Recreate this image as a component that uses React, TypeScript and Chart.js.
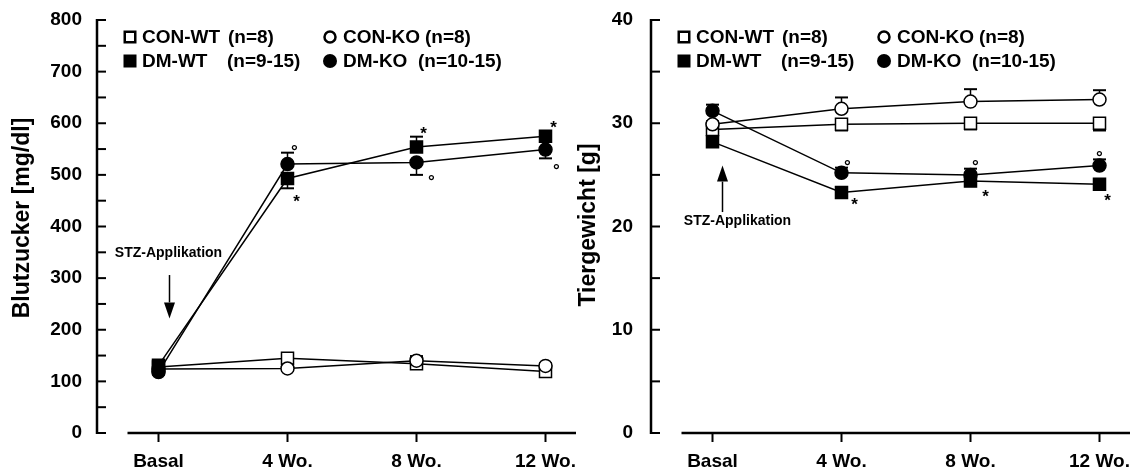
import React, { useEffect, useRef } from 'react';
import { Chart, registerables } from 'chart.js';

Chart.register(...registerables);

// ---------- data ----------
const CATEGORIES = ['Basal', '4 Wo.', '8 Wo.', '12 Wo.'];

const LEGEND_NAMES = ['CON-WT', 'CON-KO', 'DM-WT', 'DM-KO'];
const LEGEND_COUNTS = ['(n=8)', '(n=8)', '(n=9-15)', '(n=10-15)'];

// Blutzucker [mg/dl]
const BZ_CON_WT = [128, 145, 134, 119];
const BZ_CON_KO = [124, 125, 140, 130];
const BZ_DM_WT = [131, 493, 554, 575];
const BZ_DM_KO = [118, 521, 524, 549];
const BZ_CON_WT_ERR = [4, 8, -7, -6];
const BZ_CON_KO_ERR = [-4, -5, 9, 5];
const BZ_DM_WT_ERR = [5, -19, 20, 6];
const BZ_DM_KO_ERR = [-5, 22, -24, -17];
const BZ_DM_WT_SIG = ['', '*', '*', '*'];
const BZ_DM_KO_SIG = ['', '°', '°', '°'];

// Tiergewicht [g]
const TG_CON_WT = [29.4, 29.9, 30.0, 30.0];
const TG_CON_KO = [29.9, 31.4, 32.1, 32.3];
const TG_DM_WT = [28.2, 23.3, 24.4, 24.1];
const TG_DM_KO = [31.2, 25.2, 25.0, 25.9];
const TG_CON_WT_ERR = [-0.3, -0.6, -0.6, -0.7];
const TG_CON_KO_ERR = [0.3, 1.1, 1.2, 0.9];
const TG_DM_WT_ERR = [-0.4, -0.3, -0.4, -0.3];
const TG_DM_KO_ERR = [0.6, 0.5, 0.6, 0.6];
const TG_DM_WT_SIG = ['', '*', '*', '*'];
const TG_DM_KO_SIG = ['', '°', '°', '°'];

const BZ_Y_MAX = 800;
const BZ_Y_STEP = 50;
const BZ_Y_LABEL_STEP = 100;
const TG_Y_MAX = 40;
const TG_Y_STEP = 5;
const TG_Y_LABEL_STEP = 10;

const STZ_TEXT = 'STZ-Applikation';
// STZ annotation anchors in data values (y)
const BZ_STZ = { textY: 349, arrowFrom: 306, arrowTo: 222 };
const TG_STZ = { textY: 20.5, arrowFrom: 21.4, arrowTo: 25.9 };

// ---------- styling / layout ----------
const FONT = 'Liberation Sans, Arial, Helvetica, sans-serif';
const CANVAS_W = 579;
const CANVAS_H = 471;
const AXIS_LEFT = 97;
const CAT_SPACING = 129;
const BASAL_PX = 158.5;
const AREA_RIGHT = 576;
const X_MIN = -(BASAL_PX - AXIS_LEFT) / CAT_SPACING;
const X_MAX = 3 + (AREA_RIGHT - (BASAL_PX + 3 * CAT_SPACING)) / CAT_SPACING;
const X_AXIS_START = -(BASAL_PX - 127.5) / CAT_SPACING;

type Series = { data: number[]; err: number[]; style: 'rect' | 'circle'; filled: boolean };

type PanelCfg = {
  left: number;
  yMax: number;
  yStep: number;
  yLabelStep: number;
  tickPadding: number;
  title: string;
  titleX: number;
  titleCY: number;
  series: Series[];
  sigWT: string[];
  sigKO: string[];
  sigWTOff: number[][];
  sigKOOff: number[][];
  stz: { textY: number; arrowFrom: number; arrowTo: number };
  stzTextDX: number;
  stzArrowDX: number;
};

const PANELS: PanelCfg[] = [
  {
    left: 0,
    yMax: BZ_Y_MAX,
    yStep: BZ_Y_STEP,
    yLabelStep: BZ_Y_LABEL_STEP,
    tickPadding: 15,
    title: 'Blutzucker [mg/dl]',
    titleX: 29,
    titleCY: 218,
    series: [
      { data: BZ_CON_WT, err: BZ_CON_WT_ERR, style: 'rect', filled: false },
      { data: BZ_CON_KO, err: BZ_CON_KO_ERR, style: 'circle', filled: false },
      { data: BZ_DM_WT, err: BZ_DM_WT_ERR, style: 'rect', filled: true },
      { data: BZ_DM_KO, err: BZ_DM_KO_ERR, style: 'circle', filled: true },
    ],
    sigWT: BZ_DM_WT_SIG,
    sigKO: BZ_DM_KO_SIG,
    sigWTOff: [[0, 0], [9, 19], [7, -18], [8, -13]],
    sigKOOff: [[0, 0], [7, -17], [15, 15], [11, 17]],
    stz: BZ_STZ,
    stzTextDX: 10,
    stzArrowDX: 11,
  },
  {
    left: 554,
    yMax: TG_Y_MAX,
    yStep: TG_Y_STEP,
    yLabelStep: TG_Y_LABEL_STEP,
    tickPadding: 18,
    title: 'Tiergewicht [g]',
    titleX: 41,
    titleCY: 225,
    series: [
      { data: TG_CON_WT, err: TG_CON_WT_ERR, style: 'rect', filled: false },
      { data: TG_CON_KO, err: TG_CON_KO_ERR, style: 'circle', filled: false },
      { data: TG_DM_WT, err: TG_DM_WT_ERR, style: 'rect', filled: true },
      { data: TG_DM_KO, err: TG_DM_KO_ERR, style: 'circle', filled: true },
    ],
    sigWT: TG_DM_WT_SIG,
    sigKO: TG_DM_KO_SIG,
    sigWTOff: [[0, 0], [13, 8], [15, 11], [8, 12]],
    sigKOOff: [[0, 0], [6, -10], [5, -12], [0, -12]],
    stz: TG_STZ,
    stzTextDX: 25,
    stzArrowDX: 10,
  },
];

function drawSymbol(ctx: CanvasRenderingContext2D, s: string, cx: number, cy: number, size: number) {
  ctx.font = `bold ${size}px ${FONT}`;
  ctx.textAlign = 'center';
  ctx.textBaseline = 'alphabetic';
  ctx.fillText(s, cx, cy + 0.56 * size);
}

function makePlugin(cfg: PanelCfg) {
  return {
    id: 'panelDecor',
    beforeDatasetsDraw(chart: any) {
      const ctx: CanvasRenderingContext2D = chart.ctx;
      const yS = chart.scales.y;
      ctx.save();
      ctx.strokeStyle = '#000';
      cfg.series.forEach((s, i) => {
        const meta = chart.getDatasetMeta(i);
        meta.data.forEach((pt: any, j: number) => {
          const e = s.err[j];
          if (!e) return;
          const yEnd = yS.getPixelForValue(s.data[j] + e);
          ctx.lineWidth = 1.5;
          ctx.beginPath();
          ctx.moveTo(pt.x, pt.y);
          ctx.lineTo(pt.x, yEnd);
          ctx.stroke();
          ctx.lineWidth = 2;
          ctx.beginPath();
          ctx.moveTo(pt.x - 6.5, yEnd);
          ctx.lineTo(pt.x + 6.5, yEnd);
          ctx.stroke();
        });
      });
      ctx.restore();
    },
    afterDraw(chart: any) {
      const ctx: CanvasRenderingContext2D = chart.ctx;
      const xS = chart.scales.x;
      const yS = chart.scales.y;
      ctx.save();
      ctx.strokeStyle = '#000';
      ctx.fillStyle = '#000';
      // y axis line
      const yTop = yS.getPixelForValue(cfg.yMax);
      const yBot = yS.getPixelForValue(0);
      const ax = chart.chartArea.left;
      ctx.lineWidth = 2.5;
      ctx.beginPath();
      ctx.moveTo(ax, yBot + 1);
      ctx.lineTo(ax, yTop - 1);
      ctx.stroke();
      ctx.lineWidth = 2;
      for (let v = 0; v <= cfg.yMax; v += cfg.yStep) {
        const py = yS.getPixelForValue(v);
        ctx.beginPath();
        ctx.moveTo(ax, py);
        ctx.lineTo(ax + 9, py);
        ctx.stroke();
      }
      // x axis line
      ctx.lineWidth = 2.5;
      ctx.beginPath();
      ctx.moveTo(xS.getPixelForValue(X_AXIS_START), yBot);
      ctx.lineTo(chart.chartArea.right, yBot);
      ctx.stroke();
      ctx.lineWidth = 2;
      CATEGORIES.forEach((_, i) => {
        const px = xS.getPixelForValue(i);
        ctx.beginPath();
        ctx.moveTo(px, yBot);
        ctx.lineTo(px, yBot + 9);
        ctx.stroke();
      });
      // axis title
      ctx.save();
      ctx.translate(cfg.titleX, cfg.titleCY);
      ctx.rotate(-Math.PI / 2);
      ctx.font = `bold 23px ${FONT}`;
      ctx.textAlign = 'center';
      ctx.textBaseline = 'alphabetic';
      ctx.fillText(cfg.title, 0, 0);
      ctx.restore();
      // legend
      const rows = [37, 61];
      const markX = [130, 330];
      const nameX = [142, 343];
      const countX = [[228, 425], [227, 418]];
      cfg.series.forEach((s, i) => {
        const row = i < 2 ? 0 : 1;
        const col = i % 2;
        const cy = rows[row];
        const cx = markX[col];
        ctx.lineWidth = 2.5;
        if (s.style === 'rect') {
          if (s.filled) ctx.fillRect(cx - 6.5, cy - 6.5, 13, 13);
          else ctx.strokeRect(cx - 5.25, cy - 5.25, 10.5, 10.5);
        } else {
          ctx.beginPath();
          if (s.filled) {
            ctx.arc(cx, cy, 7, 0, Math.PI * 2);
            ctx.fill();
          } else {
            ctx.arc(cx, cy, 5.5, 0, Math.PI * 2);
            ctx.stroke();
          }
        }
        ctx.font = `bold 19px ${FONT}`;
        ctx.textAlign = 'left';
        ctx.textBaseline = 'middle';
        ctx.fillText(LEGEND_NAMES[i], nameX[col], cy + 1);
        ctx.fillText(LEGEND_COUNTS[i], countX[row][col], cy + 1);
      });
      // significance marks
      const metaWT = chart.getDatasetMeta(2);
      const metaKO = chart.getDatasetMeta(3);
      cfg.sigWT.forEach((s, j) => {
        if (!s) return;
        const pt = metaWT.data[j];
        drawSymbol(ctx, s, pt.x + cfg.sigWTOff[j][0], pt.y + cfg.sigWTOff[j][1], 17);
      });
      cfg.sigKO.forEach((s, j) => {
        if (!s) return;
        const pt = metaKO.data[j];
        drawSymbol(ctx, s, pt.x + cfg.sigKOOff[j][0], pt.y + cfg.sigKOOff[j][1], 17);
      });
      // STZ annotation
      const basalX = xS.getPixelForValue(0);
      ctx.font = `bold 14px ${FONT}`;
      ctx.textAlign = 'center';
      ctx.textBaseline = 'middle';
      ctx.fillText(STZ_TEXT, basalX + cfg.stzTextDX, yS.getPixelForValue(cfg.stz.textY));
      const arX = basalX + cfg.stzArrowDX;
      const y0 = yS.getPixelForValue(cfg.stz.arrowFrom);
      const y1 = yS.getPixelForValue(cfg.stz.arrowTo);
      const dir = y1 > y0 ? 1 : -1;
      const headLen = 16;
      ctx.lineWidth = 1.5;
      ctx.beginPath();
      ctx.moveTo(arX, y0);
      ctx.lineTo(arX, y1 - dir * headLen);
      ctx.stroke();
      ctx.beginPath();
      ctx.moveTo(arX, y1);
      ctx.lineTo(arX - 5.5, y1 - dir * headLen);
      ctx.lineTo(arX + 5.5, y1 - dir * headLen);
      ctx.closePath();
      ctx.fill();
      ctx.restore();
    },
  };
}

const DRAW_ORDER = [3, 2, 1, 0];

function Panel({ cfg }: { cfg: PanelCfg }) {
  const ref = useRef<HTMLCanvasElement | null>(null);
  useEffect(() => {
    if (!ref.current) return;
    const tickFont = { family: FONT, size: 19, weight: 'bold' as const };
    const chart = new Chart(ref.current, {
      type: 'line',
      data: {
        datasets: cfg.series.map((s, i) => ({
          label: LEGEND_NAMES[i],
          order: DRAW_ORDER[i],
          data: s.data.map((v, j) => ({ x: j, y: v })),
          borderColor: '#000',
          borderWidth: 1.5,
          backgroundColor: s.filled ? '#000' : '#fff',
          pointBackgroundColor: s.filled ? '#000' : '#fff',
          pointBorderColor: '#000',
          pointBorderWidth: 1.5,
          pointStyle: s.style,
          pointRadius: s.style === 'rect' ? 8.5 : 6.5,
          pointHoverRadius: s.style === 'rect' ? 8.5 : 6.5,
          fill: false,
          tension: 0,
        })),
      },
      options: {
        animation: false,
        responsive: false,
        devicePixelRatio: 1,
        layout: { autoPadding: false, padding: { left: 0, top: 20, right: CANVAS_W - AREA_RIGHT, bottom: 0 } },
        plugins: { legend: { display: false }, tooltip: { enabled: false } },
        scales: {
          x: {
            type: 'linear',
            min: X_MIN,
            max: X_MAX,
            afterBuildTicks: (s: any) => {
              s.ticks = CATEGORIES.map((_, i) => ({ value: i }));
            },
            afterFit: (s: any) => {
              s.height = 38;
            },
            ticks: {
              callback: (v: any) => CATEGORIES[Math.round(Number(v))] ?? '',
              font: tickFont,
              color: '#000',
              padding: 0,
              autoSkip: false,
              maxRotation: 0,
            },
            grid: { display: false, drawTicks: true, tickLength: 17 },
            border: { display: false },
          },
          y: {
            min: 0,
            max: cfg.yMax,
            afterFit: (s: any) => {
              s.width = AXIS_LEFT;
            },
            ticks: {
              stepSize: cfg.yStep,
              callback: (v: any) => (Number(v) % cfg.yLabelStep === 0 ? String(v) : ''),
              font: tickFont,
              color: '#000',
              padding: 0,
              autoSkip: false,
            },
            grid: { display: false, drawTicks: true, tickLength: cfg.tickPadding },
            border: { display: false },
          },
        },
      },
      plugins: [makePlugin(cfg)],
    });
    return () => chart.destroy();
  }, [cfg]);
  return (
    <canvas
      ref={ref}
      width={CANVAS_W}
      height={CANVAS_H}
      style={{ position: 'absolute', left: cfg.left, top: 0, width: CANVAS_W, height: CANVAS_H }}
    />
  );
}

export default function App() {
  return (
    <div style={{ position: 'fixed', left: 0, top: 0, width: 1133, height: 471, background: '#fff', overflow: 'hidden' }}>
      {PANELS.map((p, i) => (
        <Panel key={i} cfg={p} />
      ))}
    </div>
  );
}
